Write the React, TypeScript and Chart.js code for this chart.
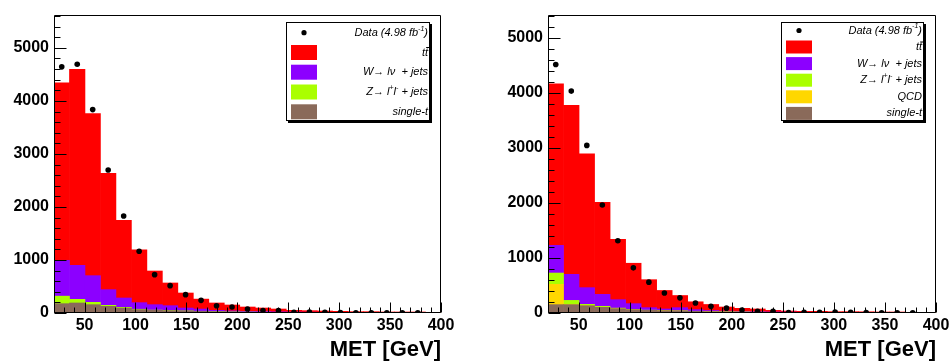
import React, { useEffect, useRef } from 'react';
import { Chart, registerables } from 'chart.js';

Chart.register(...registerables);

// ---- categories (bin centres of 25 bins, 15.2 GeV wide, from 20 to 400 GeV) ----
const BIN_CENTERS = [27.6, 42.8, 58.0, 73.2, 88.4, 103.6, 118.8, 134.0, 149.2, 164.4, 179.6, 194.8, 210.0, 225.2, 240.4, 255.6, 270.8, 286.0, 301.2, 316.4, 331.6, 346.8, 362.0, 377.2, 392.4];
const X_TICKS = [50, 100, 150, 200, 250, 300, 350, 400];
const Y_TICKS = [0, 1000, 2000, 3000, 4000, 5000];

// ---- left panel ----
const LEFT_DATA = [4642, 4692, 3836, 2698, 1830, 1164, 723, 516, 346, 239, 138, 113, 75, 47, 46, 14, 19, 12, 7, 6, 6, 5, 5, 3];
const LEFT_TTBAR = [3346, 3698, 3057, 2195, 1465, 995, 635, 428, 283, 187, 139, 111, 81, 67, 53, 32, 29, 25, 20, 16, 17, 12, 13, 13, 8];
const LEFT_WJETS = [676, 641, 503, 295, 176, 124, 102, 90, 53, 42, 23, 19, 15, 13, 11, 9, 7, 7, 6, 5, 4, 4, 3, 4, 3];
const LEFT_ZJETS = [142, 69, 44, 19, 13, 8, 5, 4, 3, 2, 2, 1, 1, 1, 1, 1, 1, 0, 0, 0, 0, 0, 0, 0, 0];
const LEFT_SINGLET = [176, 189, 157, 126, 94, 63, 50, 44, 38, 31, 25, 20, 16, 13, 10, 8, 7, 6, 5, 4, 4, 3, 3, 2, 2];

// ---- right panel ----
const RIGHT_DATA = [4521, 4036, 3048, 1964, 1315, 821, 561, 364, 276, 182, 121, 88, 55, 32, 30, 8, 12, 12, 16, 11, 6, 5, 5, 3];
const RIGHT_TTBAR = [2940, 3073, 2436, 1673, 1097, 735, 509, 337, 221, 143, 110, 74, 57, 50, 29, 20, 17, 18, 14, 15, 14, 11, 12, 7, 7];
const RIGHT_WJETS = [503, 474, 303, 217, 153, 103, 45, 28, 58, 29, 18, 14, 11, 9, 8, 8, 6, 6, 5, 5, 4, 4, 3, 3, 3];
const RIGHT_ZJETS = [206, 73, 25, 18, 10, 6, 4, 3, 3, 2, 2, 1, 1, 1, 1, 0, 0, 0, 0, 0, 0, 0, 0, 0, 0];
const RIGHT_QCD = [369, 4, 0, 1, 0, 0, 0, 0, 0, 0, 0, 0, 0, 0, 0, 0, 0, 0, 0, 0, 0, 0, 0, 0, 0];
const RIGHT_SINGLET = [152, 152, 133, 103, 79, 61, 48, 42, 36, 30, 25, 20, 16, 13, 10, 8, 7, 6, 5, 4, 4, 3, 3, 2, 2];

const COLORS = {
  ttbar: '#ff0000',
  wjets: '#8c00ff',
  zjets: '#aaff00',
  qcd: '#ffd700',
  singlet: '#8a6a5a',
};

const FONT = '"Liberation Sans", Arial, Helvetica, sans-serif';

type Seg = { t: string; sup?: boolean; bar?: boolean };
type Item = { kind: 'point' | 'box'; color: string; label: Seg[] };
type Stack = { label: string; color: string; values: number[] };
type LegendSpec = {
  x: number; y: number; w: number; h: number;
  markerX: number; markerW: number; markerH: number;
  textRight: number; rows: number[]; items: Item[];
};
type PanelSpec = {
  left: number; width: number; yMax: number; yAxisWidth: number; padRight: number;
  data: number[]; stacks: Stack[]; legend: LegendSpec;
};

const LBL_DATA: Seg[] = [{ t: 'Data (4.98 fb' }, { t: '-1', sup: true }, { t: ')' }];
const LBL_TTBAR: Seg[] = [{ t: 't' }, { t: 't', bar: true }];
const LBL_W: Seg[] = [{ t: 'W\u2192 l\u03bd  + jets' }];
const LBL_Z: Seg[] = [{ t: 'Z\u2192 l' }, { t: '+', sup: true }, { t: 'l' }, { t: '-', sup: true }, { t: ' + jets' }];
const LBL_QCD: Seg[] = [{ t: 'QCD' }];
const LBL_ST: Seg[] = [{ t: 'single-t' }];

const LEFT_SPEC: PanelSpec = {
  left: 0, width: 475, yMax: 5620, yAxisWidth: 54, padRight: 34,
  data: LEFT_DATA,
  stacks: [
    { label: 'single-t', color: COLORS.singlet, values: LEFT_SINGLET },
    { label: 'Z+jets', color: COLORS.zjets, values: LEFT_ZJETS },
    { label: 'W+jets', color: COLORS.wjets, values: LEFT_WJETS },
    { label: 'ttbar', color: COLORS.ttbar, values: LEFT_TTBAR },
  ],
  legend: {
    x: 286, y: 22, w: 144, h: 99, markerX: 291, markerW: 26, markerH: 15, textRight: 428,
    rows: [32.7, 52.5, 72.2, 92, 111.8],
    items: [
      { kind: 'point', color: '#000', label: LBL_DATA },
      { kind: 'box', color: COLORS.ttbar, label: LBL_TTBAR },
      { kind: 'box', color: COLORS.wjets, label: LBL_W },
      { kind: 'box', color: COLORS.zjets, label: LBL_Z },
      { kind: 'box', color: COLORS.singlet, label: LBL_ST },
    ],
  },
};

const RIGHT_SPEC: PanelSpec = {
  left: 475, width: 476, yMax: 5420, yAxisWidth: 73, padRight: 15,
  data: RIGHT_DATA,
  stacks: [
    { label: 'single-t', color: COLORS.singlet, values: RIGHT_SINGLET },
    { label: 'QCD', color: COLORS.qcd, values: RIGHT_QCD },
    { label: 'Z+jets', color: COLORS.zjets, values: RIGHT_ZJETS },
    { label: 'W+jets', color: COLORS.wjets, values: RIGHT_WJETS },
    { label: 'ttbar', color: COLORS.ttbar, values: RIGHT_TTBAR },
  ],
  legend: {
    x: 306, y: 22, w: 143, h: 99, markerX: 311, markerW: 26, markerH: 13, textRight: 447,
    rows: [30.5, 47, 63.6, 80.2, 96.8, 113.4],
    items: [
      { kind: 'point', color: '#000', label: LBL_DATA },
      { kind: 'box', color: COLORS.ttbar, label: LBL_TTBAR },
      { kind: 'box', color: COLORS.wjets, label: LBL_W },
      { kind: 'box', color: COLORS.zjets, label: LBL_Z },
      { kind: 'box', color: COLORS.qcd, label: LBL_QCD },
      { kind: 'box', color: COLORS.singlet, label: LBL_ST },
    ],
  },
};

function drawSegs(ctx: CanvasRenderingContext2D, segs: Seg[], right: number, cy: number) {
  const base = `italic 11px ${FONT}`;
  const sup = `italic 7px ${FONT}`;
  let total = 0;
  const widths = segs.map((s) => {
    ctx.font = s.sup ? sup : base;
    const w = ctx.measureText(s.t).width;
    total += w;
    return w;
  });
  let x = right - total;
  ctx.textAlign = 'left';
  ctx.textBaseline = 'middle';
  ctx.fillStyle = '#000';
  segs.forEach((s, i) => {
    ctx.font = s.sup ? sup : base;
    ctx.fillText(s.t, x, s.sup ? cy - 4 : cy);
    if (s.bar) ctx.fillRect(x + 1.2, cy - 5.5, widths[i] + 0.5, 1);
    x += widths[i];
  });
}

function makeDecor(spec: PanelSpec) {
  return {
    id: 'decor',
    afterDraw(chart: any) {
      const ctx: CanvasRenderingContext2D = chart.ctx;
      const { left, right, top, bottom } = chart.chartArea;
      const xs = chart.scales.x;
      const ys = chart.scales.y;
      ctx.save();
      ctx.strokeStyle = '#000';
      ctx.lineWidth = 1;
      // frame
      const L = Math.round(left) + 0.5;
      const R = Math.round(right) - 0.5;
      const T = Math.round(top) + 0.5;
      const B = Math.round(bottom) - 0.5;
      ctx.beginPath();
      ctx.rect(L, T, R - L, B - T);
      ctx.stroke();
      // inner ticks
      ctx.beginPath();
      for (let v = 20; v <= 400; v += 10) {
        const px = Math.round(xs.getPixelForValue(v)) + 0.5;
        const len = v % 50 === 0 ? 10 : 5;
        ctx.moveTo(px, B);
        ctx.lineTo(px, B - len);
      }
      for (let v = 0; v <= spec.yMax; v += 200) {
        const py = Math.round(ys.getPixelForValue(v)) + 0.5;
        const len = v % 1000 === 0 ? 12 : 6;
        ctx.moveTo(L, py);
        ctx.lineTo(L + len, py);
      }
      ctx.stroke();
      // legend
      const lg = spec.legend;
      ctx.fillStyle = '#000';
      ctx.fillRect(lg.x + 2, lg.y + 2, lg.w, lg.h);
      ctx.fillStyle = '#fff';
      ctx.fillRect(lg.x, lg.y, lg.w, lg.h);
      ctx.strokeRect(lg.x + 0.5, lg.y + 0.5, lg.w - 1, lg.h - 1);
      lg.items.forEach((it, i) => {
        const cy = lg.rows[i];
        if (it.kind === 'point') {
          ctx.fillStyle = it.color;
          ctx.beginPath();
          ctx.arc(lg.markerX + lg.markerW / 2, cy, 2.6, 0, Math.PI * 2);
          ctx.fill();
        } else {
          ctx.fillStyle = it.color;
          ctx.fillRect(lg.markerX, cy - lg.markerH / 2, lg.markerW, lg.markerH);
        }
        drawSegs(ctx, it.label, lg.textRight, cy);
      });
      ctx.restore();
    },
  };
}

function Panel({ spec }: { spec: PanelSpec }) {
  const ref = useRef<HTMLCanvasElement>(null);
  useEffect(() => {
    const canvas = ref.current;
    if (!canvas) return;
    const datasets: any[] = [
      {
        type: 'scatter',
        label: 'Data',
        data: spec.data.map((y, i) => ({ x: BIN_CENTERS[i], y })),
        backgroundColor: '#000',
        borderColor: '#000',
        pointRadius: 2.8,
        pointHoverRadius: 2.8,
        borderWidth: 0,
        stack: 'data',
        order: 0,
      },
      ...spec.stacks.map((s) => ({
        type: 'bar',
        label: s.label,
        data: s.values.map((y, i) => ({ x: BIN_CENTERS[i], y })),
        backgroundColor: s.color,
        borderWidth: 0,
        barPercentage: 1,
        categoryPercentage: 1,
        stack: 'mc',
        order: 1,
      })),
    ];
    const tickFont = { family: FONT, size: 16, weight: 'bold' as const };
    const chart = new Chart(canvas, {
      type: 'bar',
      data: { datasets },
      options: {
        animation: false,
        responsive: false,
        events: [],
        layout: { padding: { left: 0, right: spec.padRight, top: 15, bottom: 0 } },
        plugins: { legend: { display: false }, tooltip: { enabled: false } },
        scales: {
          x: {
            type: 'linear',
            min: 20,
            max: 400,
            stacked: true,
            offset: false,
            grid: { display: false, drawTicks: false },
            border: { display: false },
            ticks: {
              autoSkip: false,
              maxRotation: 0,
              padding: 3,
              color: '#000',
              font: tickFont,
              callback: (v: any) => String(v),
            },
            afterBuildTicks: (s: any) => { s.ticks = X_TICKS.map((v) => ({ value: v })); },
            afterFit: (s: any) => { s.height = 50; s.paddingLeft = 0; s.paddingRight = 0; },
            title: {
              display: true,
              text: 'MET [GeV]',
              align: 'end',
              color: '#000',
              font: { family: FONT, size: 22, weight: 'bold', lineHeight: 1 },
              padding: { top: 0, bottom: 2 },
            },
          },
          y: {
            type: 'linear',
            min: 0,
            max: spec.yMax,
            stacked: true,
            grid: { display: false, drawTicks: false },
            border: { display: false },
            ticks: {
              padding: 5,
              color: '#000',
              font: tickFont,
              callback: (v: any) => String(v),
            },
            afterBuildTicks: (s: any) => { s.ticks = Y_TICKS.map((v) => ({ value: v })); },
            afterFit: (s: any) => { s.width = spec.yAxisWidth; s.paddingTop = 0; s.paddingBottom = 0; },
          },
        },
      } as any,
      plugins: [makeDecor(spec)],
    });
    return () => chart.destroy();
  }, [spec]);
  return (
    <canvas
      ref={ref}
      width={spec.width}
      height={363}
      style={{ position: 'absolute', left: spec.left, top: 0, display: 'block', width: spec.width, height: 363 }}
    />
  );
}

export default function App() {
  return (
    <div style={{ position: 'absolute', left: 0, top: 0, width: 951, height: 363, background: '#fff', overflow: 'hidden' }}>
      <Panel spec={LEFT_SPEC} />
      <Panel spec={RIGHT_SPEC} />
    </div>
  );
}
